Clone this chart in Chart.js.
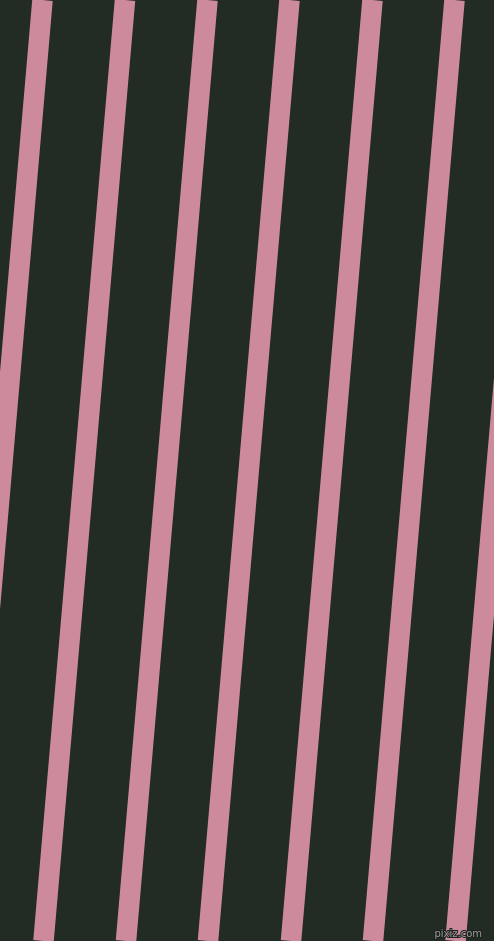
<!DOCTYPE html>
<html>
<head>
<meta charset="utf-8">
<script src="https://cdn.jsdelivr.net/npm/chart.js@4"></script>
<style>
  body { margin: 0; background: #222c24; }
  #box { width: 494px; height: 941px; background: #222c24; }
</style>
</head>
<body>
<div id="box"><canvas id="myChart"></canvas></div>
<script>
// stripe x positions where they meet the top and the bottom edge
let topX = [42.5, 125, 207.5, 289.5, 372.5, 454.5, 537];
let bottomX = [-39, 43.5, 126, 208, 291, 373, 455.5];
let yTop = 941;
let yBottom = 0;

let stripeColor = '#cd8a9d';

let datasets = [];
for (let i = 0; i < topX.length; i++) {
  datasets.push({
    data: [{ x: topX[i], y: yTop }, { x: bottomX[i], y: yBottom }],
    showLine: true,
    borderColor: stripeColor,
    borderWidth: 20.5,
    borderCapStyle: 'butt',
    pointRadius: 0,
    pointHoverRadius: 0
  });
}

// little watermark in the corner
const markPlugin = {
  id: 'mark',
  afterDraw(chart) {
    let ctx = chart.ctx;
    ctx.save();
    ctx.font = '10px "DejaVu Sans"';
    ctx.textAlign = 'right';
    ctx.textBaseline = 'alphabetic';
    ctx.lineWidth = 2;
    ctx.strokeStyle = '#1c221d';
    ctx.strokeText('pixiz.com', 482, 937);
    ctx.fillStyle = '#9a9a9a';
    ctx.fillText('pixiz.com', 482, 937);
    ctx.restore();
  }
};

var myChart = new Chart(document.getElementById('myChart'), {
  type: 'scatter',
  data: { datasets: datasets },
  options: {
    responsive: true,
    maintainAspectRatio: false,
    animation: false,
    layout: { padding: 0 },
    plugins: { legend: { display: false }, tooltip: { enabled: false } },
    scales: {
      x: { type: 'linear', min: 0, max: 494, display: false },
      y: { type: 'linear', min: 0, max: 941, display: false }
    }
  },
  plugins: [markPlugin]
});
</script>
</body>
</html>
